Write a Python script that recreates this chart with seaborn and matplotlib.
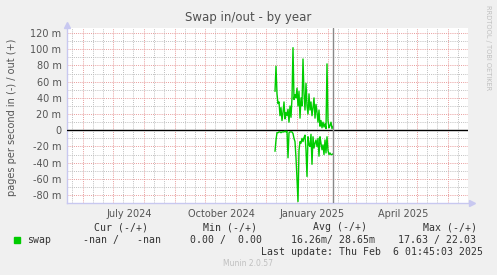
import matplotlib
matplotlib.use("Agg")
import matplotlib.pyplot as plt
import matplotlib.dates as mdates
import matplotlib.ticker as mticker
import seaborn as sns
import pandas as pd
import numpy as np

# ---- data (values in milli-pages per second) ----
start_date = "2024-12-10"
swap_out = [48, 79, 45, 33, 35, 18, 28, 12, 22, 35, 14, 22, 18, 26, 10, 30, 16, 40,
            102, 38, 44, 40, 52, 30, 48, 15, 40, 30, 88, 45, 25, 58, 30, 20, 45, 25,
            35, 18, 28, 40, 15, 32, 22, 10, 25, 5, 12, 3, 10, 4, 8, 2, 82, 12, 3, 6,
            10, 2, 5]
swap_in = [26, 12, 3, 3, 2, 2, 3, 2, 2, 2, 1, 2, 1, 34, 3, 2, 2, 2, 4, 10, 14, 34,
           60, 88, 25, 14, 16, 10, 14, 9, 6, 24, 57, 8, 18, 20, 5, 42, 8, 22, 16, 12,
           20, 10, 32, 8, 16, 24, 18, 30, 12, 28, 8, 25, 30, 28, 30, 30, 29]
month_labels = ["July 2024", "October 2024", "January 2025", "April 2025"]
month_label_dates = ["2024-07-17", "2024-10-17", "2025-01-16", "2025-04-17"]
last_update = "2025-02-06"
x_start, x_end = "2024-05-16", "2025-06-21"
y_ticks = [-80, -60, -40, -20, 0, 20, 40, 60, 80, 100, 120]

legend_headers = ["Cur (-/+)", "Min (-/+)", "Avg (-/+)", "Max (-/+)"]
legend_values = ["-nan /   -nan", "0.00 /  0.00", "16.26m/ 28.65m", "17.63 / 22.03"]

dates = pd.date_range(start_date, periods=len(swap_out), freq="D")
df = pd.DataFrame({"date": dates, "out": swap_out, "in": [-v for v in swap_in]})

sns.set_theme(style="white")
plt.rcParams["font.family"] = ["DejaVu Sans"]

W, H = 497, 275
fig = plt.figure(figsize=(W / 100, H / 100), dpi=100, facecolor="#F0F0F0")
ax = fig.add_axes([67 / W, 1 - 203 / H, 401 / W, 175 / H])
ax.set_facecolor("white")

green = "#00CC00"
sns.lineplot(data=df, x="date", y="out", ax=ax, color=green, lw=1.0, zorder=5)
sns.lineplot(data=df, x="date", y="in", ax=ax, color=green, lw=1.0, zorder=5)

ax.set_xlim(pd.Timestamp(x_start), pd.Timestamp(x_end))
ax.set_ylim(-89.8, 126.3)

# grid
minor_col = "#BEBEBE"
major_col = "#E89A9A"
dots = (0, (1, 1.2))
ax.xaxis.set_major_locator(mdates.MonthLocator())
ax.xaxis.set_minor_locator(mdates.DayLocator(bymonthday=[11, 21]))
ax.xaxis.set_major_formatter(mticker.NullFormatter())
ax.yaxis.set_major_locator(mticker.FixedLocator(y_ticks))
ax.yaxis.set_minor_locator(mticker.MultipleLocator(10))
ax.yaxis.set_major_formatter(mticker.FuncFormatter(lambda v, p: "0" if abs(v) < 1e-9 else f"{v:.0f} m"))

ax.grid(which="minor", color=minor_col, linestyle=dots, lw=0.7)
ax.grid(which="major", color=major_col, linestyle=dots, lw=0.7)
ax.set_axisbelow(True)

ax.tick_params(axis="y", which="major", labelsize=7, labelcolor="#555555",
               length=2, color="#B0B0B0", pad=2)
ax.tick_params(axis="y", which="minor", length=0)
ax.tick_params(axis="x", which="major", length=4, direction="inout", color="#E08080")
ax.tick_params(axis="x", which="minor", length=3, direction="inout", color="#B0B0B0")

for s in ["top", "right"]:
    ax.spines[s].set_visible(False)
for s in ["left", "bottom"]:
    ax.spines[s].set_color("#C8C8F0")
    ax.spines[s].set_linewidth(1.0)

ax.set_xlabel("")
ax.set_ylabel("")

# zero line and "now" rule
ax.axhline(0, color="black", lw=1.0, zorder=4)
ax.axvline(pd.Timestamp(last_update), color="#888888", lw=1.0, zorder=6)

# axis arrows
ax.plot([0], [1.02], marker="^", ms=4, color="#C8C8F0", transform=ax.transAxes, clip_on=False)
ax.plot([1.01], [0], marker=">", ms=4, color="#C8C8F0", transform=ax.transAxes, clip_on=False)

# month labels
for lab, d in zip(month_labels, month_label_dates):
    ax.text(pd.Timestamp(d), -0.035, lab, transform=ax.get_xaxis_transform(),
            ha="center", va="top", fontsize=7, color="#555555")

# titles
fig.text(0.5, 1 - 18 / H, "Swap in/out - by year", ha="center", va="center",
         fontsize=8.5, color="#505050")
fig.text(12 / W, 1 - 117 / H, "pages per second in (-) / out (+)", rotation=90,
         ha="center", va="center", fontsize=7, color="#555555")
fig.text(488 / W, 1 - 5 / H, "RRDTOOL / TOBI OETIKER", rotation=270,
         ha="center", va="top", fontsize=4.8, color="#C0C0C0")

# legend block
mono = "DejaVu Sans Mono"
hdr_x = [94, 203, 313, 423]
val_x = [83, 190, 291, 398]
for h, x in zip(legend_headers, hdr_x):
    fig.text(x / W, 1 - 227.5 / H, h, family=mono, fontsize=7.1, color="#333333",
             ha="left", va="center")
for v, x in zip(legend_values, val_x):
    fig.text(x / W, 1 - 240 / H, v, family=mono, fontsize=7.1, color="#333333",
             ha="left", va="center")
fig.text(27 / W, 1 - 240 / H, "swap", family=mono, fontsize=7.1, color="#333333",
         ha="left", va="center")
fig.patches.append(plt.Rectangle((14 / W, 1 - 243 / H), 6 / W, 6 / H,
                                 transform=fig.transFigure, color=green))
fig.text(483 / W, 1 - 252 / H, "Last update: Thu Feb  6 01:45:03 2025", family=mono,
         fontsize=7.1, color="#333333", ha="right", va="center")
fig.text(248 / W, 1 - 263.5 / H, "Munin 2.0.57", fontsize=5.5, color="#C0C0C0",
         ha="center", va="center")

fig.savefig("out.png", dpi=100, facecolor=fig.get_facecolor())
